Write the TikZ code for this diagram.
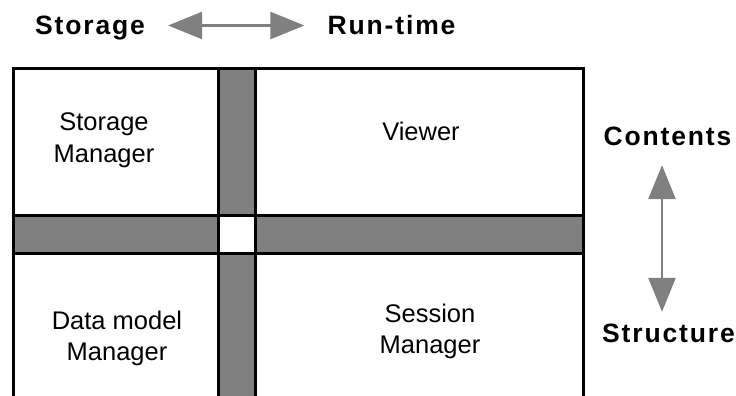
\documentclass[tikz,border=0pt]{standalone}
\usepackage{fontspec}
\usepackage{xcolor}
\setmainfont{Liberation Sans}
\newfontfamily\headfont[LetterSpace=7]{Liberation Sans}
\usetikzlibrary{arrows.meta,positioning}

\definecolor{bargray}{HTML}{808080}

\tikzset{
	cell/.style={align=center,inner sep=0pt,font=\fontsize{25.5}{31.5}\selectfont},
	axislabel/.style={anchor=base,inner sep=0pt,text height=19pt,text depth=0pt,font=\headfont\bfseries\fontsize{26.5}{30}\selectfont},
	dirarrow/.style={bargray,line width=2.4pt,{Triangle[length=34pt,width=27pt]}-{Triangle[length=34pt,width=27pt]}}
}

\begin{document}
\begin{tikzpicture}[x=1pt,y=-1pt]
					\useasboundingbox (0,0) rectangle (736,396);

					% Bars
					\fill[bargray] (218,69) rectangle (255.5,400);
					\fill[bargray] (13.5,215.5) rectangle (583.5,253);
					\fill[white] (218,215.5) rectangle (255.5,253);

					% Frame
					\draw[line width=3pt] (13.5,400) -- (13.5,69) -- (583.5,69) -- (583.5,400);
					\draw[line width=3pt] (218,69) -- (218,400);
					\draw[line width=3pt] (255.5,69) -- (255.5,400);
					\draw[line width=3pt] (13.5,215.5) -- (583.5,215.5);
					\draw[line width=3pt] (13.5,253) -- (583.5,253);

					% Nodes
					\node[cell] (storagemgr) at (104,140) {Storage\\Manager};
					\node[cell] (viewer) at (421,131) {Viewer};
					\node[cell] (datamgr) at (117,338.5) {Data model\\Manager};
					\node[cell] (sessionmgr) at (430,331.5) {Session\\Manager};

					\node[axislabel] (storage) at (90,35) {Storage};
					\node[axislabel] (runtime) at (391.5,35) {Run-time};
					\node[axislabel] (contents) at (667.5,145) {Contents};
					\node[axislabel] (structure) at (668.5,342) {Structure};

					% Edges
					\draw[dirarrow,shorten <=23pt,shorten >=23pt] (storage) -- (runtime);
					\draw[dirarrow,line width=2.8pt,shorten <=20pt,shorten >=11pt] ([xshift=-5.5pt]contents.south) -- ([xshift=-6.5pt]structure.north);
				\end{tikzpicture}
\end{document}
